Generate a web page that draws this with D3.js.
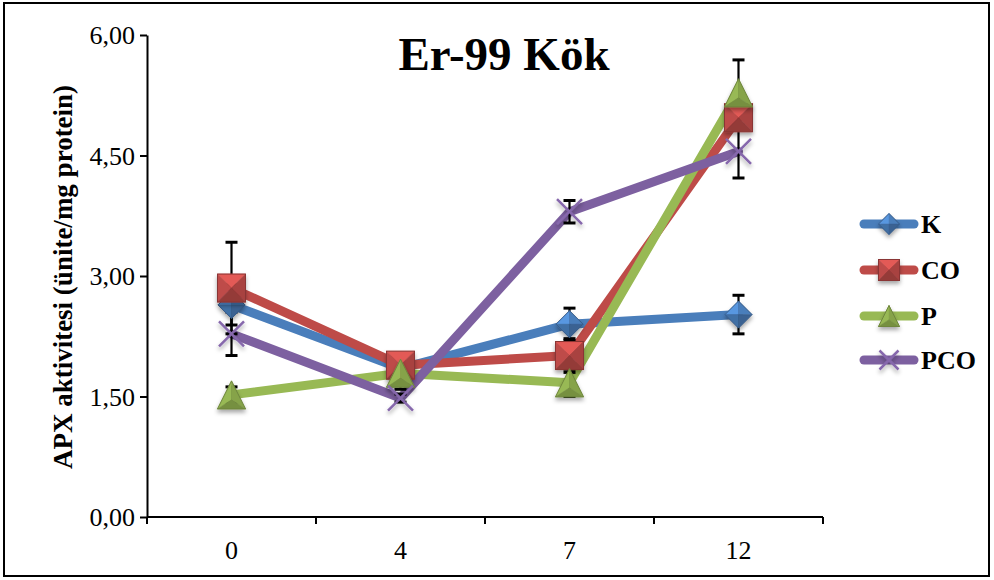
<!DOCTYPE html>
<html><head><meta charset="utf-8">
<script src="https://cdn.jsdelivr.net/npm/d3@7"></script>
<style>
html,body{margin:0;padding:0;background:#fff;}
svg{display:block;font-family:"Liberation Serif","Times New Roman",serif;}
</style></head>
<body>
<svg id="chart" width="994" height="580"></svg>
<script>
// ---- data ----
const categories = ["0", "4", "7", "12"];
const seriesNames = ["K", "CO", "P", "PCO"];
const valuesK   = [2.64, 1.85, 2.40, 2.52];
const valuesCO  = [2.85, 1.89, 2.01, 4.97];
const valuesP   = [1.52, 1.79, 1.67, 5.28];
const valuesPCO = [2.28, 1.48, 3.80, 4.55];
const errK   = [0.25, 0.06, 0.20, 0.24];
const errCO  = [0.57, 0.10, 0.21, 0.10];
const errP   = [0.10, 0.20, 0.17, 0.41];
const errPCO = [0.27, 0.05, 0.14, 0.33];
const yTicks = [0, 1.5, 3, 4.5, 6];
const title = "Er-99 Kök";
const yLabel = "APX aktivitesi (ünite/mg protein)";

const colors = {K:"#4A7EBB", CO:"#BE4B48", P:"#98B954", PCO:"#7D60A0"};
const shapes = {K:"diamond", CO:"square", P:"triangle", PCO:"x"};
const series = [
  {name:"K", values:valuesK, err:errK},
  {name:"CO", values:valuesCO, err:errCO},
  {name:"P", values:valuesP, err:errP},
  {name:"PCO", values:valuesPCO, err:errPCO}
];

const svg = d3.select("#chart");
const defs = svg.append("defs");
const f = defs.append("filter").attr("id","shadow").attr("x","-50%").attr("y","-50%").attr("width","200%").attr("height","200%");
f.append("feDropShadow").attr("dx",0).attr("dy",3).attr("stdDeviation",2).attr("flood-color","#000").attr("flood-opacity",0.35);

// outer border
svg.append("rect").attr("x",4).attr("y",3).attr("width",985).attr("height",573)
  .attr("fill","none").attr("stroke","#000").attr("stroke-width",2);

const x0 = 147, x1 = 823, yTop = 35, yBot = 517;
const x = d3.scalePoint().domain(categories).range([x0, x1]).padding(0.5);
const y = d3.scaleLinear().domain([0, 6]).range([yBot, yTop]);
const fmt = v => d3.format(".2f")(v).replace(".", ",");

// y axis
const yAxis = d3.axisLeft(y).tickValues(yTicks).tickFormat(fmt).tickSize(7).tickSizeOuter(0);
const gy = svg.append("g").attr("transform",`translate(${x0},0)`).call(yAxis);
gy.select(".domain").attr("stroke","#000").attr("stroke-width",2);
gy.selectAll(".tick line").attr("stroke","#000").attr("stroke-width",2);
gy.selectAll(".tick text").attr("font-size",26).attr("fill","#000")
  .attr("font-family","Liberation Serif").attr("x",-12).attr("dy","0.33em");

// x axis (ticks between categories)
const band = x.step();
const boundaries = d3.range(categories.length + 1).map(i => x0 + i * band);
svg.append("line").attr("x1",x0).attr("x2",x1).attr("y1",yBot).attr("y2",yBot)
  .attr("stroke","#000").attr("stroke-width",2);
svg.append("g").selectAll("line").data(boundaries).join("line")
  .attr("x1",d=>d).attr("x2",d=>d).attr("y1",yBot).attr("y2",yBot+7)
  .attr("stroke","#000").attr("stroke-width",2);
svg.append("g").selectAll("text").data(categories).join("text")
  .attr("x",d=>x(d)).attr("y",559).attr("text-anchor","middle")
  .attr("font-size",26).attr("fill","#000").text(d=>d);

// title
svg.append("text").attr("x",504).attr("y",70).attr("text-anchor","middle")
  .attr("font-size",47).attr("font-weight","bold").attr("fill","#000").text(title);

// y label
svg.append("text").attr("transform","translate(72,277) rotate(-90)")
  .attr("text-anchor","middle").attr("font-size",27).attr("font-weight","bold")
  .attr("fill","#000").text(yLabel);

// lines
const line = d3.line().x((d,i)=>x(categories[i])).y(d=>y(d));
const gLines = svg.append("g");
series.forEach(s => {
  gLines.append("path").attr("d", line(s.values)).attr("fill","none")
    .attr("stroke", colors[s.name]).attr("stroke-width",9)
    .attr("stroke-linejoin","round").attr("stroke-linecap","round");
});

// error bars
const gErr = svg.append("g");
series.forEach(s => {
  s.values.forEach((v,i) => {
    const cx = x(categories[i]);
    const e = s.err[i];
    gErr.append("line").attr("x1",cx).attr("x2",cx).attr("y1",y(v+e)).attr("y2",y(v-e))
      .attr("stroke","#000").attr("stroke-width",2.2);
    [v+e, v-e].forEach(t => {
      gErr.append("line").attr("x1",cx-6).attr("x2",cx+6).attr("y1",y(t)).attr("y2",y(t))
        .attr("stroke","#000").attr("stroke-width",3);
    });
  });
});

// markers
function drawMarker(g, shape, cx, cy, size, color) {
  const c = d3.color(color);
  const light = c.brighter(0.5).toString(), mid = c.toString(),
        dark = c.darker(0.35).toString(), darker = c.darker(0.7).toString();
  const outline = c.darker(0.9).toString();
  const m = g.append("g").attr("transform",`translate(${cx},${cy})`).attr("filter","url(#shadow)");
  const h = size/2;
  const poly = (pts, fill) => m.append("polygon").attr("points", pts.map(p=>p.join(",")).join(" "))
      .attr("fill", fill).attr("stroke", fill).attr("stroke-width",0.5).attr("stroke-linejoin","round");
  if (shape === "square") {
    poly([[-h,-h],[h,-h],[0,0]], light);
    poly([[-h,-h],[0,0],[-h,h]], mid);
    poly([[h,-h],[h,h],[0,0]], dark);
    poly([[-h,h],[0,0],[h,h]], darker);
    m.append("rect").attr("x",-h).attr("y",-h).attr("width",size).attr("height",size)
      .attr("fill","none").attr("stroke",outline).attr("stroke-width",1);
  } else if (shape === "diamond") {
    poly([[0,-h],[-h,0],[0,0]], light);
    poly([[0,-h],[h,0],[0,0]], mid);
    poly([[-h,0],[0,h],[0,0]], dark);
    poly([[h,0],[0,h],[0,0]], darker);
    m.append("polygon").attr("points",`0,${-h} ${h},0 0,${h} ${-h},0`)
      .attr("fill","none").attr("stroke",outline).attr("stroke-width",1);
  } else if (shape === "triangle") {
    const top=[0,-h], bl=[-h,h], br=[h,h], ctr=[0,h*0.35];
    poly([top,bl,ctr], mid);
    poly([top,br,ctr], dark);
    poly([bl,br,ctr], darker);
    m.append("polygon").attr("points",`${top} ${br} ${bl}`)
      .attr("fill","none").attr("stroke",outline).attr("stroke-width",1);
  } else if (shape === "x") {
    m.append("path").attr("d",`M${-h},${-h}L${h},${h}M${h},${-h}L${-h},${h}`)
      .attr("stroke", c.brighter(0.2).toString()).attr("stroke-width",2.5).attr("fill","none");
  }
}
const gMarkers = svg.append("g");
series.forEach(s => {
  s.values.forEach((v,i) => {
    const sz = shapes[s.name]==="diamond" ? 27 : (shapes[s.name]==="x" ? 25 : 28);
    drawMarker(gMarkers, shapes[s.name], x(categories[i]), y(v), sz, colors[s.name]);
  });
});

// legend
const legendY = [224, 270, 316, 360];
const gLeg = svg.append("g");
series.forEach((s, i) => {
  const ly = legendY[i];
  gLeg.append("line").attr("x1",864).attr("x2",914).attr("y1",ly).attr("y2",ly)
    .attr("stroke",colors[s.name]).attr("stroke-width",9).attr("stroke-linecap","round");
  const sz = shapes[s.name]==="x" ? 19 : 21;
  drawMarker(gLeg, shapes[s.name], 889, ly, sz, colors[s.name]);
  gLeg.append("text").attr("x",921).attr("y",ly+9).attr("font-size",26).attr("font-weight","bold")
    .attr("fill","#000").text(s.name);
});
</script>
</body></html>
